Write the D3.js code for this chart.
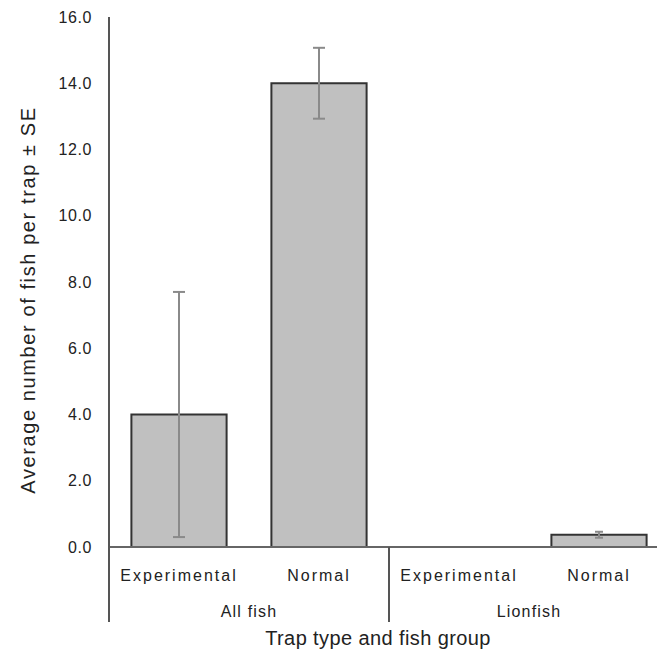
<!DOCTYPE html>
<html>
<head>
<meta charset="utf-8">
<script src="https://cdn.jsdelivr.net/npm/d3@7"></script>
<style>
  body { margin: 0; background: #fff; }
  svg { display: block; font-family: "Liberation Sans", Arial, sans-serif; }
</style>
</head>
<body>
<svg id="chart"></svg>
<script>
// data
const groups = ["All fish", "Lionfish"];
const trapTypes = ["Experimental", "Normal"];
const means = [4.0, 14.0, 0.0, 0.37];
const errors = [3.7, 1.07, 0.0, 0.09];
const yTicks = [0, 2, 4, 6, 8, 10, 12, 14, 16];

const width = 657, height = 654;
const svg = d3.select("#chart").attr("width", width).attr("height", height);

const categories = [];
groups.forEach((g, gi) => trapTypes.forEach((t, ti) => {
    const i = gi * trapTypes.length + ti;
    categories.push({key: g + "|" + t, group: g, type: t, mean: means[i], se: errors[i]});
}));

const plotLeft = 109, plotW = 560, plotTop = 17, plotBase = 547;

const xScale = d3.scaleBand()
    .domain(categories.map(d => d.key))
    .range([plotLeft, plotLeft + plotW])
    .paddingInner(0.32)
    .paddingOuter(0.16);

const yScale = d3.scaleLinear()
    .domain([0, 16])
    .range([plotBase, plotTop]);

// bars
svg.append("g")
    .selectAll("rect")
    .data(categories).enter()
    .append("rect")
    .attr("x", d => xScale(d.key))
    .attr("y", d => yScale(d.mean))
    .attr("width", xScale.bandwidth())
    .attr("height", d => yScale(0) - yScale(d.mean))
    .attr("fill", "#c0c0c0")
    .attr("stroke", d => d.mean > 0 ? "#333" : "none")
    .attr("stroke-width", 2);

// error bars
const cx = d => xScale(d.key) + xScale.bandwidth() / 2;
const eb = svg.append("g").attr("stroke", "#8a8a8a").attr("stroke-width", 2);
eb.selectAll("line.v")
    .data(categories).enter()
    .append("line")
    .attr("class", "v")
    .attr("x1", cx).attr("x2", cx)
    .attr("y1", d => yScale(d.mean + d.se))
    .attr("y2", d => yScale(d.mean - d.se));
[1, -1].forEach(s => {
    eb.selectAll("line.cap" + s)
        .data(categories).enter()
        .append("line")
        .attr("x1", d => cx(d) - (d.se > 0.3 ? 6 : 4))
        .attr("x2", d => cx(d) + (d.se > 0.3 ? 6 : 4))
        .attr("y1", d => yScale(d.mean + s * d.se))
        .attr("y2", d => yScale(d.mean + s * d.se));
});

// x baseline
svg.append("line")
    .attr("x1", plotLeft).attr("x2", width)
    .attr("y1", yScale(0)).attr("y2", yScale(0))
    .attr("stroke", "#666").attr("stroke-width", 2);

// y axis
const yAxis = d3.axisLeft(yScale)
    .tickValues(yTicks)
    .tickSize(0)
    .tickPadding(17)
    .tickFormat(d3.format(".1f"));
const yg = svg.append("g")
    .attr("transform", `translate(${plotLeft},0)`)
    .call(yAxis);
yg.select(".domain").remove();
yg.selectAll("text")
    .attr("font-size", 16)
    .attr("letter-spacing", 0.6)
    .attr("fill", "#222")
    .attr("font-family", "'Liberation Sans', Arial, sans-serif");
svg.append("line")
    .attr("x1", plotLeft).attr("x2", plotLeft)
    .attr("y1", plotTop).attr("y2", 622)
    .attr("stroke", "#555").attr("stroke-width", 2);

// group separator
const sepX = (xScale(categories[1].key) + xScale.bandwidth() + xScale(categories[2].key)) / 2;
svg.append("line")
    .attr("x1", sepX).attr("x2", sepX)
    .attr("y1", yScale(0)).attr("y2", 622)
    .attr("stroke", "#555").attr("stroke-width", 2);

// category labels
svg.append("g")
    .selectAll("text")
    .data(categories).enter()
    .append("text")
    .attr("x", cx)
    .attr("y", 581)
    .attr("text-anchor", "middle")
    .attr("font-size", 16)
    .attr("letter-spacing", 2)
    .attr("fill", "#222")
    .text(d => d.type);

// group labels
svg.append("g")
    .selectAll("text")
    .data(groups).enter()
    .append("text")
    .attr("x", g => {
        const c = categories.filter(d => d.group === g);
        return (cx(c[0]) + cx(c[c.length - 1])) / 2;
    })
    .attr("y", 617)
    .attr("text-anchor", "middle")
    .attr("font-size", 16)
    .attr("letter-spacing", 1.2)
    .attr("fill", "#222")
    .text(g => g);

// axis titles
svg.append("text")
    .attr("x", 378)
    .attr("y", 645)
    .attr("text-anchor", "middle")
    .attr("font-size", 20)
    .attr("letter-spacing", 0.4)
    .attr("fill", "#222")
    .text("Trap type and fish group");

svg.append("text")
    .attr("transform", "translate(35,300) rotate(-90)")
    .attr("text-anchor", "middle")
    .attr("font-size", 20)
    .attr("letter-spacing", 1.6)
    .attr("fill", "#222")
    .text("Average number of fish per trap ± SE");
</script>
</body>
</html>
